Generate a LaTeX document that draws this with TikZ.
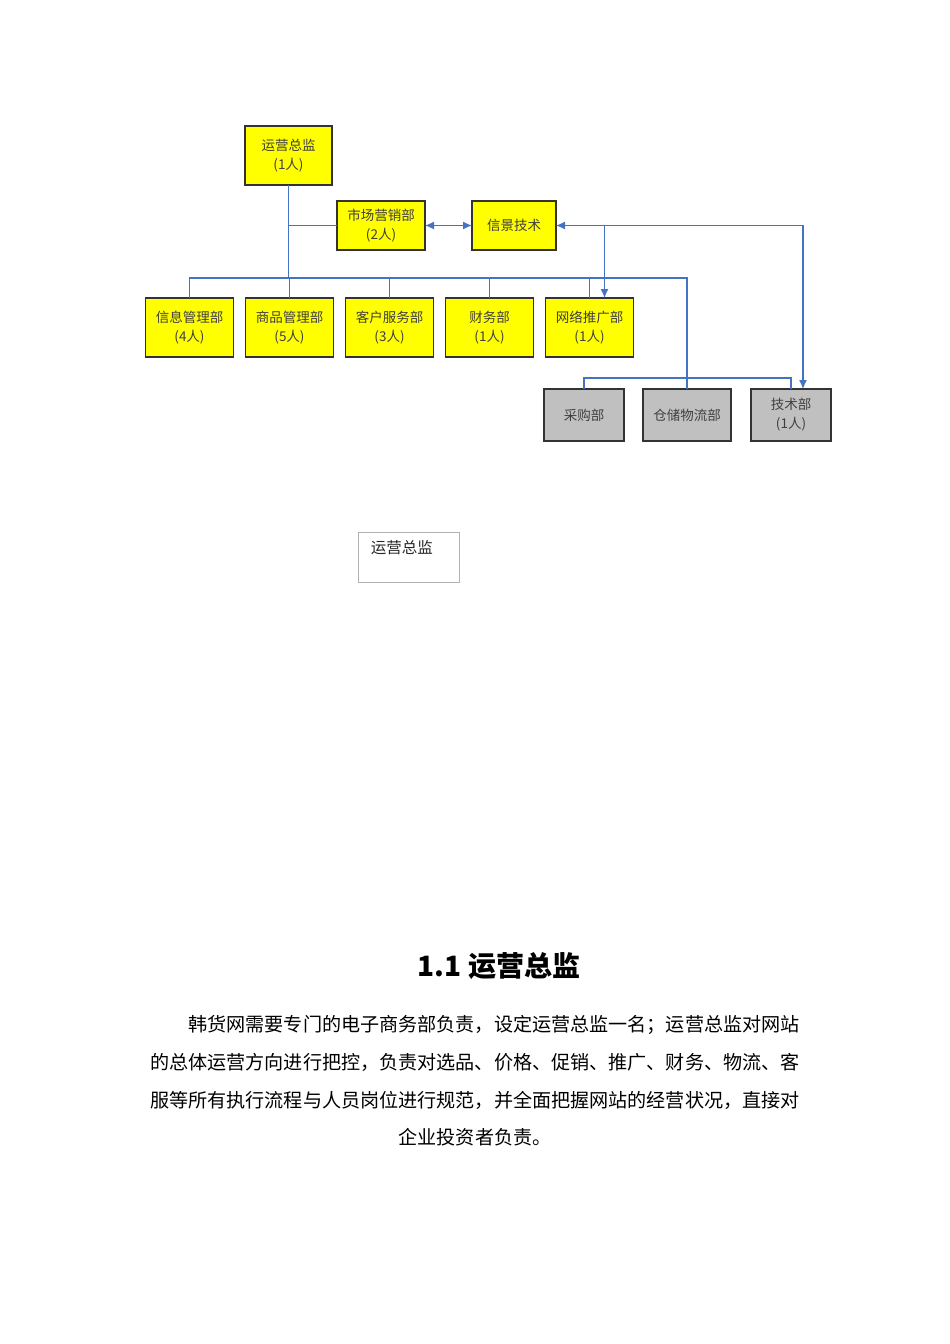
\documentclass[tikz,border=0pt]{standalone}
\usepackage{fontspec}
\setmainfont{Noto Sans CJK SC}
\usetikzlibrary{positioning, arrows.meta}

\definecolor{linkblue}{HTML}{4472C4}
\definecolor{boxyellow}{HTML}{FFFF00}
\definecolor{boxgray}{HTML}{C0C0C0}

\begin{document}
\begin{tikzpicture}[
    x=1pt, y=-1pt,
    node distance=12pt,
    dept/.style={
        draw=black!80,
        line width=1.3pt,
        fill=boxyellow,
        text=black!75,
        align=center,
        inner sep=0pt,
        outer sep=0pt,
        minimum width=88pt,
        minimum height=59pt,
        font=\fontsize{13.5}{19}\selectfont
    },
    graydept/.style={
        dept,
        fill=boxgray,
        minimum width=80pt,
        minimum height=52pt
    },
    notebox/.style={
        draw=black!30,
        line width=0.8pt,
        minimum width=101pt,
        minimum height=50pt
    },
    link/.style={
        draw=linkblue,
        line width=1.2pt
    },
    arrow/.style={
        link,
        -{Latex[length=9pt,width=8pt]}
    },
    twoway/.style={
        link,
        {Latex[length=9pt,width=8pt]}-{Latex[length=9pt,width=8pt]}
    },
    bodytext/.style={
        inner sep=0pt,
        anchor=west,
        font=\fontsize{19.1}{37}\selectfont
    }
]
\useasboundingbox (0,0) rectangle (950,1344);

% head and staff departments
\node[dept, minimum width=87pt] (director) at (288.5,155.5) {运营总监\\(1人)};
\node[dept, minimum height=49pt] (market) at (381,225.5) {市场营销部\\(2人)};
\node[dept, minimum width=84pt, minimum height=49pt] (xjtech) at (514,225.5) {信景技术};

% yellow row
\node[dept] (info) at (189.5,327.5) {信息管理部\\(4人)};
\node[dept, right=of info] (goods) {商品管理部\\(5人)};
\node[dept, right=of goods] (service) {客户服务部\\(3人)};
\node[dept, right=of service] (finance) {财务部\\(1人)};
\node[dept, right=of finance] (promo) {网络推广部\\(1人)};

% gray row
\node[graydept] (purchase) at (584,415) {采购部};
\node[graydept, minimum width=88pt, right=19pt of purchase] (storage) {仓储物流部};
\node[graydept, right=20pt of storage] (techdept) {技术部\\(1人)};

% connectors
\coordinate (bus) at (0,278);
\draw[link] (director.south) -- (director.south |- bus);
\draw[link] (director.south |- market.west) -- (market.west);
\draw[link] (info.north) |- (storage.north |- bus) -- (storage.north);
\draw[link] (goods.north) -- (goods.north |- bus);
\draw[link] (service.north) -- (service.north |- bus);
\draw[link] (finance.north) -- (finance.north |- bus);
\draw[link] (promo.north) -- (promo.north |- bus);
\draw[link] (purchase.north) |- ([yshift=11pt]techdept.north) -- (techdept.north);

\draw[twoway] (market.east) -- (xjtech.west);
\draw[twoway] (xjtech.east) -| ([xshift=12pt]techdept.north);
\draw[arrow] ([xshift=15pt]promo.north |- xjtech.east) -- ([xshift=15pt]promo.north);

% empty label box
\node[notebox] (note) at (408.5,557) {};
\node[anchor=west, inner sep=0pt, text=black!85, font=\fontsize{15.5}{18}\selectfont]
    (notetext) at ([xshift=13pt, yshift=-16pt]note.north west) {运营总监};

% section text
\node[font=\fontsize{28}{32}\selectfont\bfseries] (title) at (499,966) {1.1 运营总监};
\node[bodytext] (para1) at (188.2,1025) {韩货网需要专门的电子商务部负责，设定运营总监一名；运营总监对网站};
\node[bodytext] (para2) at (150,1062) {的总体运营方向进行把控，负责对选品、价格、促销、推广、财务、物流、客};
\node[bodytext] (para3) at (150,1100) {服等所有执行流程与人员岗位进行规范，并全面把握网站的经营状况，直接对};
\node[bodytext, anchor=center] (para4) at (475,1137) {企业投资者负责。};

\end{tikzpicture}
\end{document}
